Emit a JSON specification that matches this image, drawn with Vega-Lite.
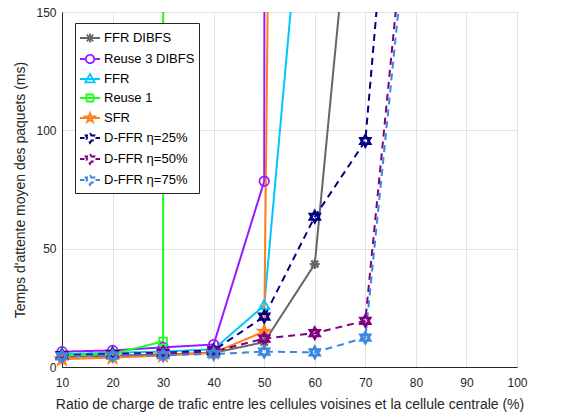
{
  "$schema": "https://vega.github.io/schema/vega-lite/v6.json",
  "width": 455,
  "height": 355,
  "autosize": {"type": "none"},
  "padding": {"left": 62, "top": 12, "right": 57, "bottom": 51},
  "background": "white",
  "config": {
    "font": "Liberation Sans",
    "view": {"stroke": "#262626", "strokeWidth": 1},
    "axis": {
      "domainColor": "#262626",
      "tickColor": "#262626",
      "gridColor": "#e3e3e3",
      "labelColor": "#262626",
      "titleColor": "#262626",
      "labelFontSize": 12,
      "titleFontSize": 14,
      "titleFontWeight": "normal",
      "labelFont": "Liberation Sans",
      "titleFont": "Liberation Sans",
      "labelFlush": false
    },
    "legend": {
      "orient": "none", "legendX": 13, "legendY": 11,
      "fillColor": "white", "strokeColor": "#262626", "padding": 4,
      "symbolSize": 400, "symbolStrokeWidth": 2, "labelFontSize": 13, "labelColor": "#000000",
      "labelFont": "Liberation Sans", "rowPadding": 1, "labelOffset": 3, "labelLimit": 200
    },
    "point": {"filled": false, "strokeWidth": 1.8, "size": 560, "opacity": 1, "clip": true}
  },
  "data": {
    "values": [
      {"series": "FFR DIBFS", "x": 10, "y": 4.2},
      {"series": "FFR DIBFS", "x": 20, "y": 4.8},
      {"series": "FFR DIBFS", "x": 30, "y": 5.3},
      {"series": "FFR DIBFS", "x": 40, "y": 6},
      {"series": "FFR DIBFS", "x": 50, "y": 10.5},
      {"series": "FFR DIBFS", "x": 60, "y": 43.5},
      {"series": "FFR DIBFS", "x": 70, "y": 266},
      {"series": "Reuse 3 DIBFS", "x": 10, "y": 6.5},
      {"series": "Reuse 3 DIBFS", "x": 20, "y": 7},
      {"series": "Reuse 3 DIBFS", "x": 30, "y": 8.3},
      {"series": "Reuse 3 DIBFS", "x": 40, "y": 9.5},
      {"series": "Reuse 3 DIBFS", "x": 50, "y": 78.5},
      {"series": "Reuse 3 DIBFS", "x": 60, "y": 20000},
      {"series": "FFR", "x": 10, "y": 5.5},
      {"series": "FFR", "x": 20, "y": 6},
      {"series": "FFR", "x": 30, "y": 6.5},
      {"series": "FFR", "x": 40, "y": 7.5},
      {"series": "FFR", "x": 50, "y": 26},
      {"series": "FFR", "x": 60, "y": 264},
      {"series": "Reuse 1", "x": 10, "y": 5},
      {"series": "Reuse 1", "x": 20, "y": 5.5},
      {"series": "Reuse 1", "x": 30, "y": 10.8},
      {"series": "Reuse 1", "x": 40, "y": 100000},
      {"series": "SFR", "x": 10, "y": 3.3},
      {"series": "SFR", "x": 20, "y": 4},
      {"series": "SFR", "x": 30, "y": 4.8},
      {"series": "SFR", "x": 40, "y": 6},
      {"series": "SFR", "x": 50, "y": 15},
      {"series": "SFR", "x": 60, "y": 2000},
      {"series": "D-FFR η=25%", "x": 10, "y": 5},
      {"series": "D-FFR η=25%", "x": 20, "y": 5.5},
      {"series": "D-FFR η=25%", "x": 30, "y": 6},
      {"series": "D-FFR η=25%", "x": 40, "y": 7},
      {"series": "D-FFR η=25%", "x": 50, "y": 21.3},
      {"series": "D-FFR η=25%", "x": 60, "y": 63.5},
      {"series": "D-FFR η=25%", "x": 70, "y": 95.5},
      {"series": "D-FFR η=25%", "x": 80, "y": 344},
      {"series": "D-FFR η=50%", "x": 10, "y": 4.8},
      {"series": "D-FFR η=50%", "x": 20, "y": 5.2},
      {"series": "D-FFR η=50%", "x": 30, "y": 5.8},
      {"series": "D-FFR η=50%", "x": 40, "y": 6.5},
      {"series": "D-FFR η=50%", "x": 50, "y": 12},
      {"series": "D-FFR η=50%", "x": 60, "y": 14.3},
      {"series": "D-FFR η=50%", "x": 70, "y": 19.5},
      {"series": "D-FFR η=50%", "x": 80, "y": 237},
      {"series": "D-FFR η=75%", "x": 10, "y": 4.5},
      {"series": "D-FFR η=75%", "x": 20, "y": 4.8},
      {"series": "D-FFR η=75%", "x": 30, "y": 5},
      {"series": "D-FFR η=75%", "x": 40, "y": 5.5},
      {"series": "D-FFR η=75%", "x": 50, "y": 6.5},
      {"series": "D-FFR η=75%", "x": 60, "y": 6.2},
      {"series": "D-FFR η=75%", "x": 70, "y": 12.4},
      {"series": "D-FFR η=75%", "x": 80, "y": 224}
    ]
  },
  "encoding": {
    "x": {
      "field": "x", "type": "quantitative",
      "scale": {"domain": [10, 100], "nice": false},
      "axis": {"orient": "bottom", "values": [10, 20, 30, 40, 50, 60, 70, 80, 90, 100], "title": "Ratio de charge de trafic entre les cellules voisines et la cellule centrale (%)", "ticks": false, "labelPadding": 10, "titlePadding": 9, "grid": true}
    },
    "y": {
      "field": "y", "type": "quantitative",
      "scale": {"domain": [0, 150], "nice": false},
      "axis": {"orient": "left", "values": [0, 50, 100, 150], "title": "Temps d'attente moyen des paquets (ms)", "ticks": false, "labelPadding": 6, "titlePadding": 8, "grid": true}
    },
    "color": {
      "field": "series", "type": "nominal",
      "scale": {
        "domain": ["FFR DIBFS", "Reuse 3 DIBFS", "FFR", "Reuse 1", "SFR", "D-FFR η=25%", "D-FFR η=50%", "D-FFR η=75%"],
        "range": ["#666666", "#9a1aff", "#00c8ff", "#1aff1a", "#ff8019", "#000080", "#800080", "#3a86e0"]
      },
      "legend": {"title": null}
    }
  },
  "layer": [
    {
      "mark": {"type": "line", "strokeWidth": 2, "clip": true},
      "encoding": {
        "strokeDash": {
          "field": "series", "type": "nominal",
          "scale": {
            "domain": ["FFR DIBFS", "Reuse 3 DIBFS", "FFR", "Reuse 1", "SFR", "D-FFR η=25%", "D-FFR η=50%", "D-FFR η=75%"],
            "range": [[1, 0], [1, 0], [1, 0], [1, 0], [1, 0], [7, 5], [7, 5], [7, 5]]
          },
          "legend": null
        }
      }
    },
    {
      "transform": [{"filter": "datum.series === 'FFR DIBFS'"}],
      "mark": {"type": "point", "strokeWidth": 2.2, "shape": "M-0.42,0H0.42M0,-0.42V0.42M-0.3,-0.3L0.3,0.3M-0.3,0.3L0.3,-0.3"}
    },
    {
      "transform": [{"filter": "datum.series === 'Reuse 3 DIBFS'"}],
      "mark": {"type": "point", "shape": "M0.4,0A0.4,0.4,0,1,1,-0.4,0A0.4,0.4,0,1,1,0.4,0"}
    },
    {
      "transform": [{"filter": "datum.series === 'FFR'"}],
      "mark": {"type": "point", "shape": "M0,-0.45L0.43,0.3L-0.43,0.3Z"}
    },
    {
      "transform": [{"filter": "datum.series === 'Reuse 1'"}],
      "mark": {"type": "point", "shape": "M-0.32,-0.32H0.32V0.32H-0.32Z"}
    },
    {
      "transform": [{"filter": "datum.series === 'SFR'"}],
      "mark": {"type": "point", "strokeWidth": 2.6, "shape": "M0,-0.45L0.106,-0.146L0.428,-0.139L0.171,0.056L0.265,0.364L0,0.18L-0.265,0.364L-0.171,0.056L-0.428,-0.139L-0.106,-0.146Z"}
    },
    {
      "transform": [{"filter": "datum.series === 'D-FFR η=25%' || datum.series === 'D-FFR η=50%' || datum.series === 'D-FFR η=75%'"}],
      "mark": {"type": "point", "strokeWidth": 2.8, "shape": "M0,-0.45L0.13,-0.225L0.39,-0.225L0.26,0L0.39,0.225L0.13,0.225L0,0.45L-0.13,0.225L-0.39,0.225L-0.26,0L-0.39,-0.225L-0.13,-0.225Z"}
    },
    {
      "transform": [{"filter": "false"}],
      "mark": {"type": "point", "filled": false, "strokeWidth": 2, "size": 400},
      "encoding": {
        "shape": {
          "field": "series", "type": "nominal",
          "scale": {
            "domain": ["FFR DIBFS", "Reuse 3 DIBFS", "FFR", "Reuse 1", "SFR", "D-FFR η=25%", "D-FFR η=50%", "D-FFR η=75%"],
            "range": [
              "M-1,0H1M-0.46,0H0.46M0,-0.46V0.46M-0.33,-0.33L0.33,0.33M-0.33,0.33L0.33,-0.33",
              "M-1,0H-0.42M0.42,0H1M0.42,0A0.42,0.42,0,1,1,-0.42,0A0.42,0.42,0,1,1,0.42,0",
              "M-1,0H1M0,-0.5L0.47,0.33L-0.47,0.33Z",
              "M-1,0H1M-0.35,-0.35H0.35V0.35H-0.35Z",
              "M-1,0H1M0,-0.5L0.117,-0.161L0.471,-0.153L0.188,0.062L0.292,0.4L0,0.198L-0.292,0.4L-0.188,0.062L-0.471,-0.153L-0.117,-0.161Z",
              "M-1,0H-0.55M0.55,0H1M0,-0.5L0.143,-0.248L0.429,-0.248L0.286,0L0.429,0.248L0.143,0.248L0,0.5L-0.143,0.248L-0.429,0.248L-0.286,0L-0.429,-0.248L-0.143,-0.248Z",
              "M-1,0H-0.55M0.55,0H1M0,-0.5L0.143,-0.248L0.429,-0.248L0.286,0L0.429,0.248L0.143,0.248L0,0.5L-0.143,0.248L-0.429,0.248L-0.286,0L-0.429,-0.248L-0.143,-0.248Z",
              "M-1,0H-0.55M0.55,0H1M0,-0.5L0.143,-0.248L0.429,-0.248L0.286,0L0.429,0.248L0.143,0.248L0,0.5L-0.143,0.248L-0.429,0.248L-0.286,0L-0.429,-0.248L-0.143,-0.248Z"
            ]
          },
          "legend": {"title": null}
        }
      }
    }
  ]
}
